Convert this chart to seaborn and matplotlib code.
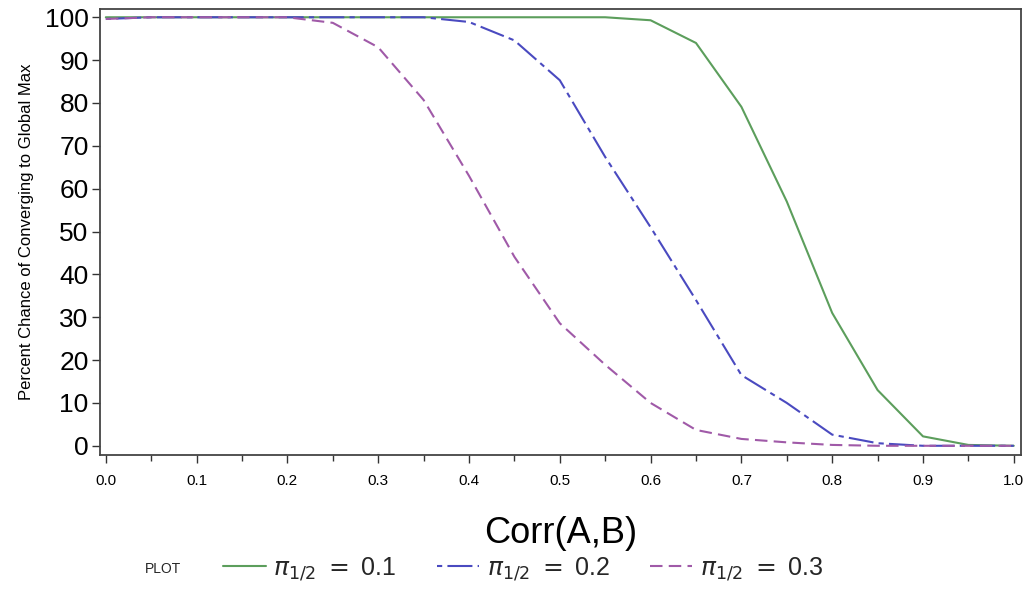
import numpy as np
import pandas as pd
import matplotlib.pyplot as plt
import seaborn as sns

corr = [0.0, 0.05, 0.1, 0.15, 0.2, 0.25, 0.3, 0.35, 0.4, 0.45, 0.5,
        0.55, 0.6, 0.65, 0.7, 0.75, 0.8, 0.85, 0.9, 0.95, 1.0]
pi_01 = [100, 100, 100, 100, 100, 100, 100, 100, 100, 100, 100,
         100, 99.3, 94.0, 79.1, 57.0, 31.0, 13.0, 2.2, 0.2, 0.0]
pi_02 = [99.6, 100, 100, 100, 100, 100, 100, 100, 98.9, 94.6, 85.3,
         67.4, 51.0, 34.0, 16.5, 10.0, 2.6, 0.6, 0.0, 0.0, 0.0]
pi_03 = [99.6, 100, 100, 100, 100, 98.7, 93.0, 80.7, 63.0, 44.1, 28.6,
         18.9, 10.0, 3.7, 1.6, 0.8, 0.2, 0.0, 0.0, 0.0, 0.0]
series = ["0.1", "0.2", "0.3"]
ytick_vals = list(range(0, 101, 10))
xtick_vals = [0.0, 0.1, 0.2, 0.3, 0.4, 0.5, 0.6, 0.7, 0.8, 0.9, 1.0]

df = pd.DataFrame({
    "corr": corr * 3,
    "pct": pi_01 + pi_02 + pi_03,
    "plot": [series[0]] * len(corr) + [series[1]] * len(corr) + [series[2]] * len(corr),
})

sns.set_style("ticks")
plt.rcParams['font.family'] = ['Liberation Sans', 'DejaVu Sans']
plt.rcParams['mathtext.fontset'] = 'dejavusans'

palette = {"0.1": "#5c9e5c", "0.2": "#4a4ac0", "0.3": "#a05aa8"}
dashes = {"0.1": "", "0.2": (2.5, 2.5, 12, 2.5), "0.3": (6, 3)}

fig = plt.figure(figsize=(10.29, 6.08), dpi=100)
ax = fig.add_axes([0.097, 0.252, 0.895, 0.733])
sns.lineplot(data=df, x="corr", y="pct", hue="plot", style="plot",
             palette=palette, dashes=dashes, linewidth=1.5, ax=ax, legend=False)

ax.set_xlim(-0.0066, 1.0077)
ax.set_ylim(-2.1, 101.9)
ax.set_xticks(xtick_vals)
ax.set_xticklabels([f"{v:.1f}" for v in xtick_vals], fontsize=11, color='black')
ax.set_xticks(np.arange(0.05, 1.0, 0.1), minor=True)
ax.set_yticks(ytick_vals)
ax.set_yticklabels([str(v) for v in ytick_vals], fontsize=19, color='black')
ax.tick_params(axis='both', which='major', direction='out', length=6, width=1, color='#333333')
ax.tick_params(axis='x', which='minor', direction='out', length=4, width=1, color='#333333')
ax.tick_params(axis='y', pad=2)
ax.tick_params(axis='x', pad=8)
for s in ax.spines.values():
    s.set_visible(True)
    s.set_linewidth(1.3)
    s.set_color('#444444')

ax.set_xlabel("Corr(A,B)", fontsize=26, labelpad=20, color='black')
ax.set_ylabel("Percent Chance of Converging to Global Max", fontsize=12, labelpad=8, color='black')

handles = [plt.Line2D([], [], color=palette[k], lw=1.5,
                      dashes=dashes[k] if dashes[k] else (None, None)) for k in series]
labels = [r"$\pi_{1/2}$ $=$ " + k for k in series]
fig.text(0.141, 0.064, "PLOT", fontsize=10, va='center')
leg = fig.legend(handles, labels, loc='center left', bbox_to_anchor=(0.195, 0.064),
                 ncol=3, frameon=False, fontsize=18, handlelength=1.7,
                 handletextpad=0.3, columnspacing=1.6)

fig.savefig("out.png", dpi=100)
